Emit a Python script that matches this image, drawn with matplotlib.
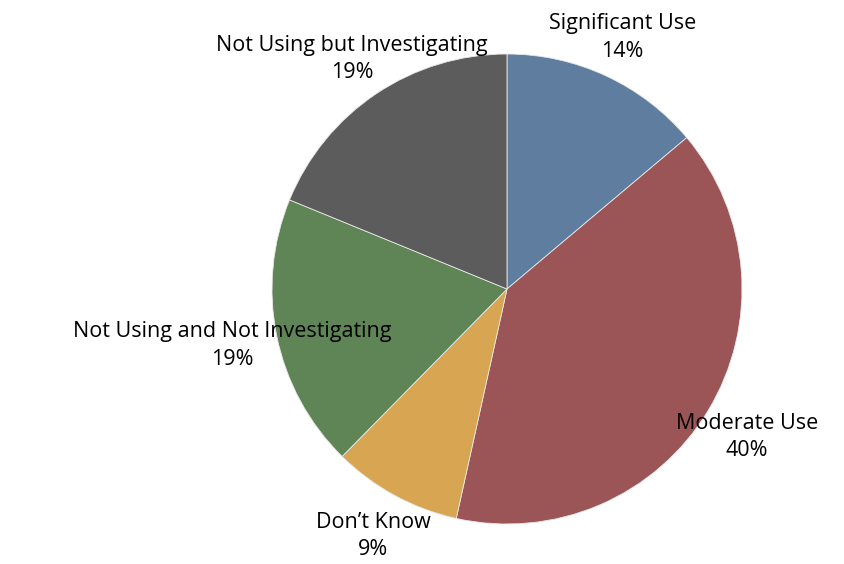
import matplotlib
matplotlib.use("Agg")
import matplotlib.pyplot as plt

# 数据
categories = ["Significant Use", "Moderate Use", "Don\u2019t Know",
              "Not Using and Not Investigating", "Not Using but Investigating"]
shares = [14, 40, 9, 19, 19]
colors = ["#5f7d9e", "#9b5557", "#d8a552", "#5f8456", "#5c5c5c"]

# 标签位置 (数据坐标, 半径=1)
label_pos = [(0.49, 1.07), (1.02, -0.63), (-0.57, -1.05),
             (-1.17, -0.24), (-0.66, 0.98)]

plt.rcParams['font.family'] = ['Open Sans', 'DejaVu Sans']

fig = plt.figure(figsize=(8.45, 5.64), dpi=100)
ax = fig.add_axes([272 / 845, 40 / 564, 470 / 845, 470 / 564])
ax.pie(shares, colors=colors, startangle=90, counterclock=False,
       radius=1, wedgeprops=dict(edgecolor="#e8e8e8", linewidth=0.6))
ax.set_xlim(-1, 1)
ax.set_ylim(-1, 1)
ax.set_aspect("equal")
ax.axis("off")

# 标签: 名称 + 百分比
for name, val, (x, y) in zip(categories, shares, label_pos):
    ax.text(x, y, "%s\n%d%%" % (name, val), ha="center", va="center",
            fontsize=15.5, color="black", linespacing=1.4, clip_on=False)

fig.savefig("out.png", dpi=100)
